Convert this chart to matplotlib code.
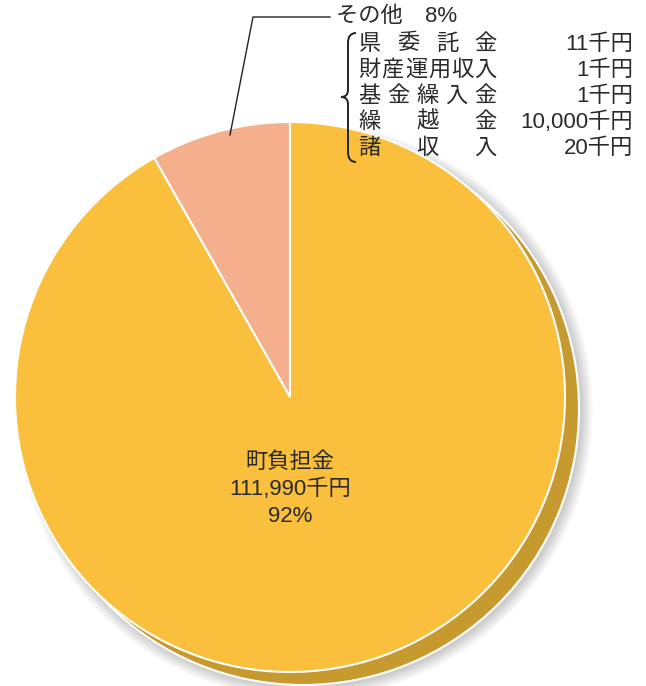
import matplotlib
matplotlib.use("Agg")
import matplotlib.pyplot as plt
from matplotlib.patches import Circle, PathPatch
from matplotlib.path import Path

plt.rcParams['font.family'] = ['Liberation Sans', 'Noto Sans CJK JP', 'DejaVu Sans']

# data
main_label = "町負担金"
main_value = 111990
other_label = "その他"
other_items = ["県委託金", "財産運用収入", "基金繰入金", "繰越金", "諸収入"]
other_values = [11, 1, 1, 10000, 20]

other_total = sum(other_values)
total = main_value + other_total

gold = "#F9BF3D"
salmon = "#F4AF8D"
shadow_col = "#C79A30"
txt = "#2a2a2a"
fs = 16

W, H = 646, 686
fig = plt.figure(figsize=(W / 100, H / 100), dpi=100)
ax = fig.add_axes([0, 0, 1, 1])

cx, cy, r = 290, H - 397, 275
sx, sy = cx + 13, cy - 12

# soft grey blur behind the shadow disc
for i in range(10):
    ax.add_patch(Circle((sx + 2, sy - 2), r + 2 + i * 1.2, color="#000000",
                        alpha=0.018, lw=0, zorder=1))
ax.add_patch(Circle((sx, sy), r + 1, facecolor=shadow_col, edgecolor="white",
                    lw=1.5, zorder=2))

ax.pie([other_total, main_value], colors=[salmon, gold], startangle=90,
       counterclock=True, center=(cx, cy), radius=r,
       wedgeprops=dict(edgecolor="white", linewidth=1.5, zorder=3),
       frame=True)
ax.set_xlim(0, W)
ax.set_ylim(0, H)
ax.set_aspect("equal")
ax.axis("off")

# main label
ax.text(cx, H - 462, main_label, ha="center", va="center", fontsize=fs, color=txt, zorder=5)
ax.text(cx, H - 489, f"{main_value:,}千円", ha="center", va="center", fontsize=fs, color=txt, zorder=5)
ax.text(cx, H - 516, f"{round(main_value / total * 100)}%", ha="center", va="center",
        fontsize=fs, color=txt, zorder=5)

# leader line and other label
ax.plot([230, 253, 330], [H - 135, H - 17, H - 17], color="#222222", lw=1, zorder=5)
ax.text(336, H - 17, f"{other_label}　{round(other_total / total * 100)}%", ha="left",
        va="center", fontsize=fs, color=txt, zorder=5)

# breakdown table, labels spread to equal width
x0, x1 = 358, 497
cw = (x1 - x0) / 6
row_y = [44, 70, 96, 122, 148]
for name, val, yy in zip(other_items, other_values, row_y):
    n = len(name)
    for k, ch in enumerate(name):
        xc = x0 + cw / 2 + (x1 - x0 - cw) * k / (n - 1)
        ax.text(xc, H - yy, ch, ha="center", va="center", fontsize=fs, color=txt, zorder=5)
    ax.text(633, H - yy, f"{val:,}千円", ha="right", va="center", fontsize=fs, color=txt, zorder=5)

# curly brace
verts = [(356, H - 33), (348, H - 33), (348, H - 43),
         (348, H - 90),
         (348, H - 97), (341, H - 97),
         (348, H - 97), (348, H - 104),
         (348, H - 152),
         (348, H - 162), (356, H - 162)]
codes = [Path.MOVETO, Path.CURVE3, Path.CURVE3,
         Path.LINETO,
         Path.CURVE3, Path.CURVE3,
         Path.CURVE3, Path.CURVE3,
         Path.LINETO,
         Path.CURVE3, Path.CURVE3]
ax.add_patch(PathPatch(Path(verts, codes), facecolor="none", edgecolor="#222222",
                       lw=1.4, zorder=5))

fig.savefig("out.png", dpi=100)
